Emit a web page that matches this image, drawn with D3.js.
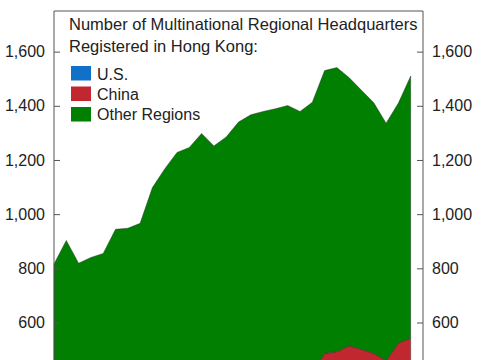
<!DOCTYPE html>
<html>
<head>
<meta charset="utf-8">
<script src="https://cdn.jsdelivr.net/npm/d3@7"></script>
<style>
body { margin: 0; background: #fff; }
text { font-family: "Liberation Sans", Arial, sans-serif; fill: #222; }
</style>
</head>
<body>
<svg id="chart" width="485" height="360"></svg>
<script>
var years = [1996,1997,1998,1999,2000,2001,2002,2003,2004,2005,2006,2007,2008,2009,2010,2011,2012,2013,2014,2015,2016,2017,2018,2019,2020,2021,2022,2023,2024,2025];
var us = [200,221,196,200,211,221,237,241,260,288,291,304,315,310,323,333,333,316,314,308,293,283,290,278,282,254,254,254,241,240];
var china = [30,35,33,35,38,45,50,55,62,70,78,86,95,98,103,108,110,112,114,118,125,132,196,214,232,247,232,205,283,302];
var other = [586,647,590,605,606,678,661,670,776,809,859,856,888,844,859,899,924,951,961,975,961,998,1044,1049,990,956,925,877,886,968];
var yTicks = [600,800,1000,1200,1400,1600];
var seriesNames = ["U.S.", "China", "Other Regions"];
var titleLines = ["Number of Multinational Regional Headquarters", "Registered in Hong Kong:"];

var colors = ["#1170c8", "#c1272f", "#007f00"];
var keys = ["us", "china", "other"];

var data = [];
for (var i = 0; i < years.length; i++) {
	data.push({year: years[i], us: us[i], china: china[i], other: other[i]});
}

var svg = d3.select("#chart");
var margin = {left: 54, right: 423, top: 11};

var x = d3.scaleLinear().domain([1996, 2026]).range([margin.left, margin.right]);
// bottom of the plot sits below the visible window
var y = d3.scaleLinear().domain([0, 1750]).range([485, margin.top]);

var stack = d3.stack().keys(keys);
var layers = stack(data);

var area = d3.area()
	.x(function(d) { return x(d.data.year); })
	.y0(function(d) { return y(d[0]); })
	.y1(function(d) { return y(d[1]); });

svg.append("g")
	.selectAll("path")
	.data(layers)
	.enter().append("path")
	.attr("d", area)
	.attr("fill", function(d, i) { return colors[i]; })
	.attr("stroke", "#2a2a2a")
	.attr("stroke-opacity", 0.6)
	.attr("stroke-width", 0.7);

// frame: left, top, right
svg.append("path")
	.attr("d", "M" + margin.left + ",400V" + margin.top + "H" + margin.right + "V400")
	.attr("fill", "none")
	.attr("stroke", "#555")
	.attr("stroke-width", 1);

var leftAxis = d3.axisLeft(y).tickValues(yTicks).tickSizeInner(-6).tickSizeOuter(0).tickPadding(9)
	.tickFormat(d3.format(","));
var rightAxis = d3.axisRight(y).tickValues(yTicks).tickSizeInner(-6).tickSizeOuter(0).tickPadding(9)
	.tickFormat(d3.format(","));

var gl = svg.append("g").attr("transform", "translate(" + margin.left + ",0)").call(leftAxis);
var gr = svg.append("g").attr("transform", "translate(" + margin.right + ",0)").call(rightAxis);
[gl, gr].forEach(function(g) {
	g.select(".domain").remove();
	g.selectAll(".tick line").attr("stroke", "#555");
	g.selectAll(".tick text").attr("font-size", 16).attr("fill", "#222")
		.style("font-family", "'Liberation Sans', Arial, sans-serif");
});

// legend
var legend = svg.append("g");
legend.selectAll("text.title")
	.data(titleLines)
	.enter().append("text")
	.attr("class", "title")
	.attr("x", 69)
	.attr("y", function(d, i) { return 30 + i * 21.7; })
	.attr("font-size", 16.5)
	.text(function(d) { return d; });

legend.selectAll("rect")
	.data(seriesNames)
	.enter().append("rect")
	.attr("x", 71)
	.attr("y", function(d, i) { return 66 + i * 20.5; })
	.attr("width", 20)
	.attr("height", 14.5)
	.attr("fill", function(d, i) { return colors[i]; });

legend.selectAll("text.item")
	.data(seriesNames)
	.enter().append("text")
	.attr("class", "item")
	.attr("x", 97)
	.attr("y", function(d, i) { return 80 + i * 20; })
	.attr("font-size", 16)
	.text(function(d) { return d; });
</script>
</body>
</html>
